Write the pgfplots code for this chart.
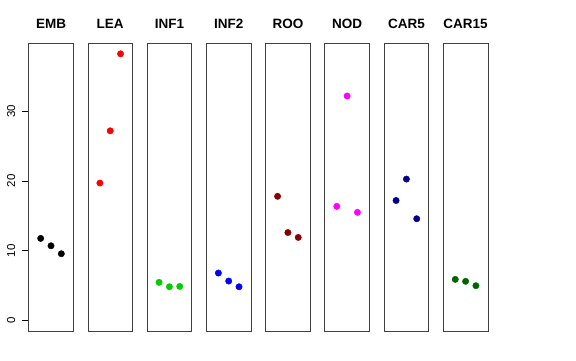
\documentclass[border=0pt]{standalone}
\usepackage{pgfplots}
\pgfplotsset{compat=1.18}
\usepackage{fontspec}
\setmainfont{Liberation Sans}
\definecolor{rgreen}{RGB}{0,205,0}
\definecolor{rdarkred}{RGB}{139,0,0}
\definecolor{rmagenta}{RGB}{255,0,255}
\definecolor{rnavy}{RGB}{0,0,139}
\definecolor{rdarkgreen}{RGB}{0,100,0}
\pgfplotsset{
  panel/.style={
    scale only axis, width=44.6pt, height=288pt,
    anchor=south west,
    xmin=-0.16, xmax=4.16, ymin=-1.53, ymax=39.8,
    xtick=\empty, ytick=\empty,
    axis line style={black!75, line width=0.8pt},
    title style={at={(0.5,1)}, anchor=base, yshift=9pt, font=\fontsize{13.5}{14}\selectfont\bfseries},
    clip=false,
  },
  pts/.style={only marks, mark=*, mark size=3.2pt, mark options={draw=#1, fill=#1}, color=#1},
}
\begin{document}
\begin{tikzpicture}
\path[use as bounding box] (0pt,0pt) rectangle (576pt,360pt);
\begin{axis}[panel, at={(28.7pt,29pt)}, title={EMB},
  ytick={0,10,20,30}, ytick pos=left, tick align=outside,
  major tick length=7pt, tick style={black, line width=0.6pt},
  yticklabel style={xshift=-3pt, rotate=90, anchor=south, font=\fontsize{11.5}{12}\selectfont},
  /pgf/number format/assume math mode=true]
\addplot[pts=black] coordinates {(1,11.76) (2,10.70) (3,9.56)};
\end{axis}
\begin{axis}[panel, at={(87.9pt,29pt)}, title={LEA}]
\addplot[pts=red] coordinates {(1,19.70) (2,27.20) (3,38.25)};
\end{axis}
\begin{axis}[panel, at={(147.1pt,29pt)}, title={INF1}]
\addplot[pts=rgreen] coordinates {(1,5.45) (2,4.82) (3,4.87)};
\end{axis}
\begin{axis}[panel, at={(206.4pt,29pt)}, title={INF2}]
\addplot[pts=blue] coordinates {(1,6.79) (2,5.64) (3,4.82)};
\end{axis}
\begin{axis}[panel, at={(265.6pt,29pt)}, title={ROO}]
\addplot[pts=rdarkred] coordinates {(1,17.80) (2,12.60) (3,11.90)};
\end{axis}
\begin{axis}[panel, at={(324.8pt,29pt)}, title={NOD}]
\addplot[pts=rmagenta] coordinates {(1,16.36) (2,32.20) (3,15.50)};
\end{axis}
\begin{axis}[panel, at={(384.1pt,29pt)}, title={CAR5}]
\addplot[pts=rnavy] coordinates {(1,17.20) (2,20.27) (3,14.58)};
\end{axis}
\begin{axis}[panel, at={(443.3pt,29pt)}, title={CAR15}]
\addplot[pts=rdarkgreen] coordinates {(1,5.88) (2,5.60) (3,4.97)};
\end{axis}
\end{tikzpicture}
\end{document}
